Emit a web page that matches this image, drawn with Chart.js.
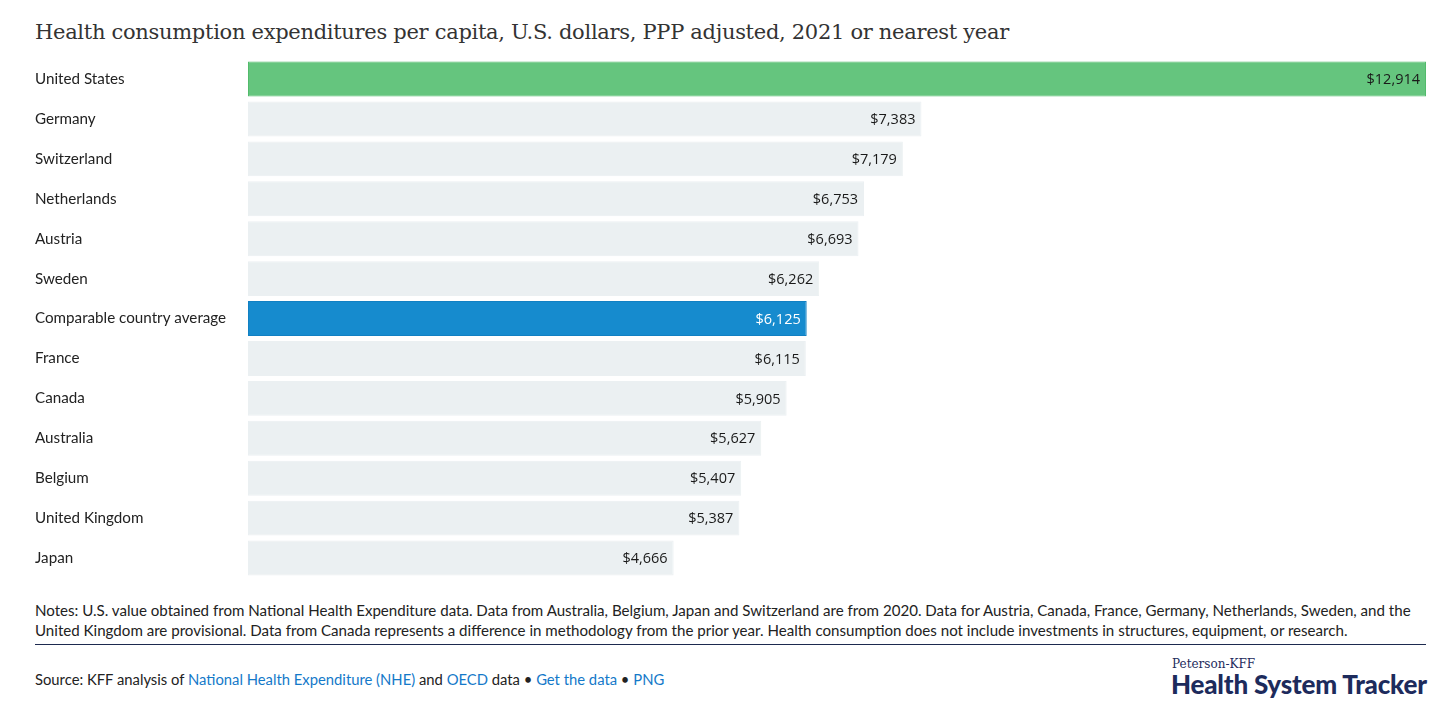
<!DOCTYPE html>
<html><head><meta charset="utf-8">
<script src="https://cdn.jsdelivr.net/npm/chart.js@4"></script>
<style>
html,body{margin:0;padding:0;background:#fff;width:1456px;height:711px;overflow:hidden;font-family:Lato,"Open Sans",sans-serif;color:#222}
#title{position:absolute;left:35px;top:20px;font-family:"DejaVu Serif","Liberation Serif",serif;font-size:21px;color:#333;letter-spacing:-0.3px;white-space:nowrap}
#wrap{position:absolute;left:0;top:50px;width:1456px;height:540px}
#notes{position:absolute;left:35px;top:600px;font-size:15.1px;line-height:20px;color:#222;white-space:nowrap}
#rule{position:absolute;left:35px;top:644px;width:1391px;height:0;border-top:1.5px solid #1d2a4f}
#source{position:absolute;left:35px;top:670px;font-size:14.8px;color:#222;white-space:nowrap}
#source a{color:#1479c9;text-decoration:none}
#logo1{position:absolute;left:1172px;top:657px;font-family:"DejaVu Serif","Liberation Serif",serif;font-size:12px;color:#1d2b5c}
#logo2{position:absolute;left:1171px;top:668px;font-family:Lato,sans-serif;font-weight:900;font-size:26px;color:#1d2b5c;letter-spacing:-0.2px;white-space:nowrap}
</style></head><body>
<div id="title">Health consumption expenditures per capita, U.S. dollars, PPP adjusted, 2021 or nearest year</div>
<div id="wrap"><canvas id="c"></canvas></div>
<div id="notes">Notes: U.S. value obtained from National Health Expenditure data. Data from Australia, Belgium, Japan and Switzerland are from 2020. Data for Austria, Canada, France, Germany, Netherlands, Sweden, and the<br>United Kingdom are provisional. Data from Canada represents a difference in methodology from the prior year. Health consumption does not include investments in structures, equipment, or research.</div>
<div id="rule"></div>
<div id="source">Source: KFF analysis of <a>National Health Expenditure (NHE)</a> and <a>OECD</a> data • <a>Get the data</a> • <a>PNG</a></div>
<div id="logo1">Peterson-KFF</div>
<div id="logo2">Health System Tracker</div>
<script>
const categories = ["United States","Germany","Switzerland","Netherlands","Austria","Sweden","Comparable country average","France","Canada","Australia","Belgium","United Kingdom","Japan"];
const values = [12914,7383,7179,6753,6693,6262,6125,6115,5905,5627,5407,5387,4666];
const highlight = {"United States":"us","Comparable country average":"avg"};

const fill = categories.map(c => highlight[c]==="us" ? "#65c57e" : highlight[c]==="avg" ? "#168bce" : "#ebf0f2");
const border = categories.map(c => highlight[c]==="us" ? "#52bb6b" : highlight[c]==="avg" ? "#1180c3" : "#ebf0f2");
const labelColor = categories.map(c => highlight[c]==="avg" ? "#ffffff" : "#1a1a1a");

const valueLabels = {
  id:'valueLabels',
  afterDatasetsDraw(chart){
    const ctx = chart.ctx;
    const meta = chart.getDatasetMeta(0);
    ctx.save();
    ctx.font = '14.5px "Open Sans", Lato, sans-serif';
    ctx.textAlign = 'right';
    ctx.textBaseline = 'middle';
    meta.data.forEach((bar,i)=>{
      ctx.fillStyle = labelColor[i];
      ctx.fillText('$' + values[i].toLocaleString('en-US'), bar.x - 6, bar.y + 1);
    });
    ctx.restore();
  }
};

new Chart(document.getElementById('c'), {
  type:'bar',
  data:{labels:categories, datasets:[{data:values, backgroundColor:fill, borderColor:border, borderWidth:1, borderSkipped:false, barPercentage:1, categoryPercentage:0.875}]},
  options:{
    indexAxis:'y', responsive:true, maintainAspectRatio:false, animation:false,
    layout:{padding:{left:35,right:30,top:8,bottom:12}},
    plugins:{legend:{display:false},tooltip:{enabled:false}},
    scales:{
      x:{display:false,min:0,max:12914},
      y:{grid:{display:false},border:{display:false},
         afterFit(s){s.width=213;},
         ticks:{crossAlign:'far',padding:0,color:'#222',font:{family:'Lato, "Open Sans", sans-serif',size:15.2}}}
    }
  },
  plugins:[valueLabels]
});
</script>
</body></html>
